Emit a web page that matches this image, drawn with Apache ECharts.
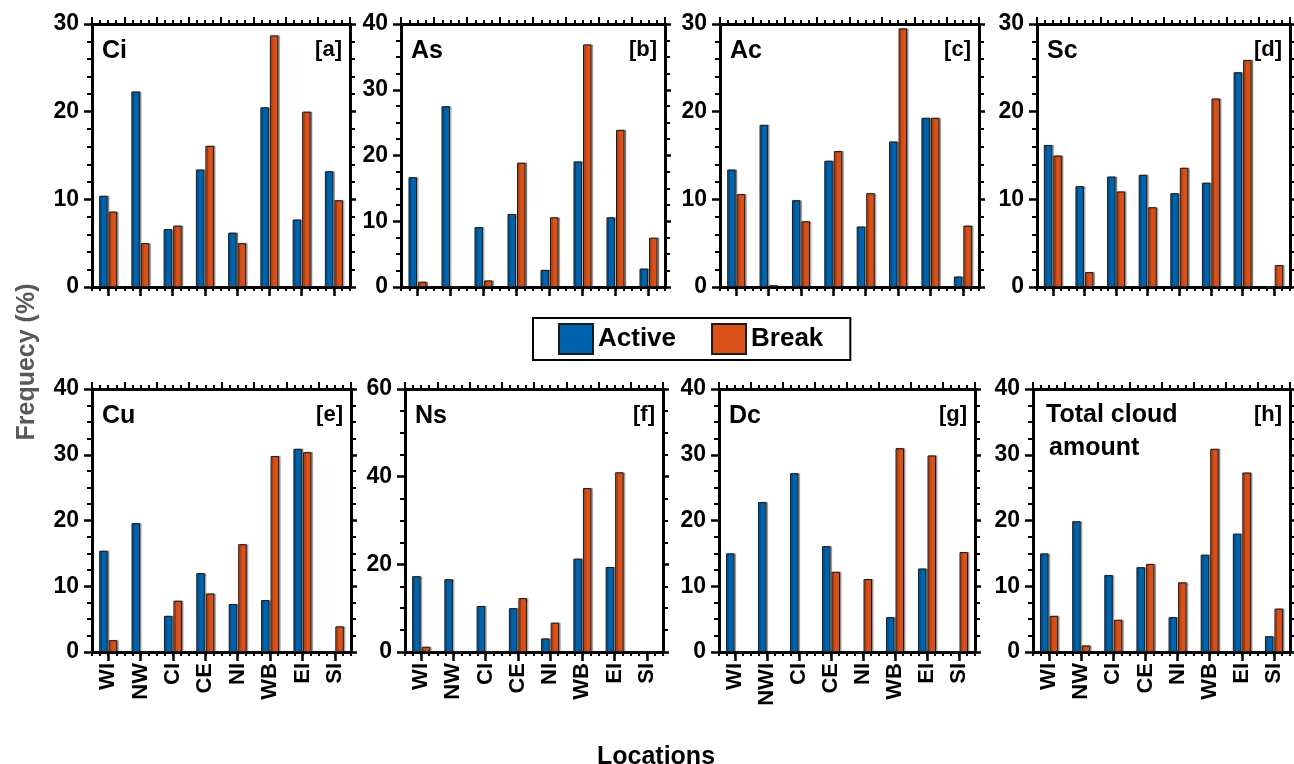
<!DOCTYPE html>
<html>
<head>
<meta charset="utf-8">
<title>Cloud type frequency by location</title>
<script src="https://cdn.jsdelivr.net/npm/echarts@6/dist/echarts.min.js"></script>
<style>
  html, body { margin: 0; padding: 0; background: #ffffff; }
  #chart { width: 1294px; height: 764px; }
</style>
</head>
<body>
<div id="chart"></div>
<script>
// Locations on the x axis
const locations   = ['WI', 'NW', 'CI', 'CE', 'NI', 'WB', 'EI', 'SI'];
const locationsDc = ['WI', 'NWI', 'CI', 'CE', 'NI', 'WB', 'EI', 'SI'];

// Frequency (%) per location, active vs break spells
const ciActive = [10.4, 22.3, 6.6, 13.4, 6.2, 20.5, 7.7, 13.2];
const ciBreak  = [8.6, 5.0, 7.0, 16.1, 5.0, 28.7, 20.0, 9.9];

const asActive = [16.7, 27.5, 9.1, 11.1, 2.6, 19.1, 10.6, 2.8];
const asBreak  = [0.8, 0, 1.0, 18.9, 10.6, 36.9, 23.9, 7.5];

const acActive = [13.4, 18.5, 9.9, 14.4, 6.9, 16.6, 19.3, 1.2];
const acBreak  = [10.6, 0.2, 7.5, 15.5, 10.7, 29.5, 19.3, 7.0];

const scActive = [16.2, 11.5, 12.6, 12.8, 10.7, 11.9, 24.5, 0];
const scBreak  = [15.0, 1.7, 10.9, 9.1, 13.6, 21.5, 25.9, 2.5];

const cuActive = [15.4, 19.6, 5.5, 12.0, 7.3, 7.9, 30.9, 0];
const cuBreak  = [1.8, 0, 7.8, 8.9, 16.4, 29.8, 30.4, 3.9];

const nsActive = [17.3, 16.6, 10.5, 10.0, 3.1, 21.3, 19.4, 0];
const nsBreak  = [1.2, 0, 0, 12.3, 6.7, 37.4, 41.0, 0];

const dcActive = [15.0, 22.8, 27.2, 16.1, 0, 5.3, 12.7, 0];
const dcBreak  = [0, 0, 0, 12.2, 11.1, 31.0, 29.9, 15.2];

const tcActive = [15.0, 19.9, 11.7, 12.9, 5.3, 14.8, 18.0, 2.4];
const tcBreak  = [5.5, 1.0, 4.9, 13.4, 10.6, 30.9, 27.3, 6.6];

// Y axis ranges: max, major step, minor subdivisions
const yMax      = [30, 40, 30, 30, 40, 60, 40, 40];
const yStep     = [10, 10, 10, 10, 10, 20, 10, 10];
const yMinorDiv = [5, 4, 5, 5, 4, 4, 4, 4];

// Panel captions
const panelNames = ['Ci', 'As', 'Ac', 'Sc', 'Cu', 'Ns', 'Dc', 'Total cloud'];
const panelTags  = ['[a]', '[b]', '[c]', '[d]', '[e]', '[f]', '[g]', '[h]'];
const seriesNames = ['Active', 'Break'];

const panels = [
  { cats: locations,   active: ciActive, brk: ciBreak },
  { cats: locations,   active: asActive, brk: asBreak },
  { cats: locations,   active: acActive, brk: acBreak },
  { cats: locations,   active: scActive, brk: scBreak },
  { cats: locations,   active: cuActive, brk: cuBreak },
  { cats: locations,   active: nsActive, brk: nsBreak },
  { cats: locationsDc, active: dcActive, brk: dcBreak },
  { cats: locations,   active: tcActive, brk: tcBreak }
];

// Plot boxes (px)
const layout = [
  { left: 92,   top: 24,  width: 258, height: 263 },
  { left: 401,  top: 24,  width: 264, height: 263 },
  { left: 720,  top: 24,  width: 259, height: 263 },
  { left: 1037, top: 24,  width: 253, height: 263 },
  { left: 92,   top: 389, width: 259, height: 263 },
  { left: 405,  top: 389, width: 258, height: 263 },
  { left: 719,  top: 389, width: 256, height: 263 },
  { left: 1033, top: 389, width: 257, height: 263 }
];

const FONT = '"Liberation Sans", Arial, Helvetica, sans-serif';
const ACTIVE_COLOR = '#0063AE';
const BREAK_COLOR = '#DA5019';
const INK = '#000000';

const grids = [], xAxes = [], yAxes = [], series = [], texts = [];

panels.forEach((p, i) => {
  const g = layout[i];
  const bottomRow = i >= 4;
  grids.push({ left: g.left, top: g.top, width: g.width, height: g.height, containLabel: false });

  // bottom category axis with location labels
  xAxes.push({
    type: 'category', gridIndex: i, position: 'bottom', data: p.cats,
    axisLine: { show: true, onZero: false, lineStyle: { color: INK, width: 3 } },
    axisTick: { show: true, alignWithLabel: true, length: 9, lineStyle: { color: INK, width: 2.5 } },
    axisLabel: { show: bottomRow, rotate: 90, margin: 11, color: INK, fontSize: 22, fontWeight: 'bold', fontFamily: FONT },
    splitLine: { show: false }
  });
  // fine ticks along the bottom edge
  xAxes.push({
    type: 'value', gridIndex: i, position: 'bottom', min: 0, max: 8, interval: 0.25,
    axisLine: { show: false, onZero: false },
    axisTick: { show: true, length: 4, lineStyle: { color: INK, width: 2 } },
    axisLabel: { show: false }, splitLine: { show: false }
  });
  // top frame edge with ticks
  xAxes.push({
    type: 'value', gridIndex: i, position: 'top', min: 0, max: 8, interval: 1,
    axisLine: { show: true, onZero: false, lineStyle: { color: INK, width: 3 } },
    axisTick: { show: true, length: 7, lineStyle: { color: INK, width: 2 } },
    minorTick: { show: true, splitNumber: 4, length: 4, lineStyle: { color: INK, width: 2 } },
    axisLabel: { show: false }, splitLine: { show: false }, minorSplitLine: { show: false }
  });

  const yCommon = {
    type: 'value', gridIndex: i, min: 0, max: yMax[i], interval: yStep[i],
    splitLine: { show: false }, minorSplitLine: { show: false },
    axisTick: { show: true, length: 8, lineStyle: { color: INK, width: 2.5 } },
    minorTick: { show: true, splitNumber: yMinorDiv[i], length: 5, lineStyle: { color: INK, width: 2 } }
  };
  yAxes.push(Object.assign({}, yCommon, {
    position: 'left',
    axisLine: { show: true, onZero: false, lineStyle: { color: INK, width: 3 } },
    axisLabel: { show: true, margin: 13, color: INK, fontSize: 23, fontWeight: 'bold', fontFamily: FONT }
  }));
  yAxes.push(Object.assign({}, yCommon, {
    position: 'right',
    axisLine: { show: true, onZero: false, lineStyle: { color: INK, width: 3 } },
    axisTick: { show: true, length: 6, lineStyle: { color: INK, width: 2.5 } },
    axisLabel: { show: false }
  }));

  const barStyle = (color) => ({
    color: color, borderColor: '#1c1c1c', borderWidth: 1,
    shadowColor: 'rgba(0,0,0,0.35)', shadowOffsetX: 1.5, shadowOffsetY: 0, shadowBlur: 1
  });
  series.push({
    name: seriesNames[0], type: 'bar', xAxisIndex: i * 3, yAxisIndex: i * 2,
    data: p.active, barWidth: 8.5, barGap: '12%', itemStyle: barStyle(ACTIVE_COLOR),
    emphasis: { disabled: true }
  });
  series.push({
    name: seriesNames[1], type: 'bar', xAxisIndex: i * 3, yAxisIndex: i * 2,
    data: p.brk, barWidth: 8.5, barGap: '12%', itemStyle: barStyle(BREAK_COLOR),
    emphasis: { disabled: true }
  });

  // panel captions
  const name = panelNames[i];
  if (i === 7) {
    texts.push({ type: 'text', x: g.left + 13, y: g.top + 26,
      style: { text: name, font: 'bold 25px ' + FONT, fill: INK, align: 'left', verticalAlign: 'middle' } });
    texts.push({ type: 'text', x: g.left + 16, y: g.top + 59,
      style: { text: 'amount', font: 'bold 25px ' + FONT, fill: INK, align: 'left', verticalAlign: 'middle' } });
  } else {
    texts.push({ type: 'text', x: g.left + 10, y: g.top + 27,
      style: { text: name, font: 'bold 25px ' + FONT, fill: INK, align: 'left', verticalAlign: 'middle' } });
  }
  texts.push({ type: 'text', x: g.left + g.width - 8, y: g.top + 26,
    style: { text: panelTags[i], font: 'bold 22px ' + FONT, fill: INK, align: 'right', verticalAlign: 'middle' } });
});

// shared axis titles
texts.push({ type: 'text', x: 27, y: 362, rotation: Math.PI / 2,
  style: { text: 'Frequecy (%)', font: 'bold 25px ' + FONT, fill: '#585858', align: 'center', verticalAlign: 'middle' } });
texts.push({ type: 'text', x: 656, y: 745,
  style: { text: 'Locations', font: 'bold 25px ' + FONT, fill: INK, align: 'center', verticalAlign: 'top' } });

const chart = echarts.init(document.getElementById('chart'), null, { renderer: 'canvas' });
chart.setOption({
  animation: false,
  backgroundColor: '#ffffff',
  legend: {
    data: seriesNames, left: 533, top: 318, orient: 'horizontal', icon: 'rect',
    itemWidth: 34, itemHeight: 30, itemGap: 35, padding: [5, 27, 5, 25],
    borderColor: INK, borderWidth: 2, selectedMode: false,
    textStyle: { fontSize: 26, fontWeight: 'bold', color: INK, fontFamily: FONT }
  },
  grid: grids,
  xAxis: xAxes,
  yAxis: yAxes,
  series: series,
  graphic: texts
});
</script>
</body>
</html>
